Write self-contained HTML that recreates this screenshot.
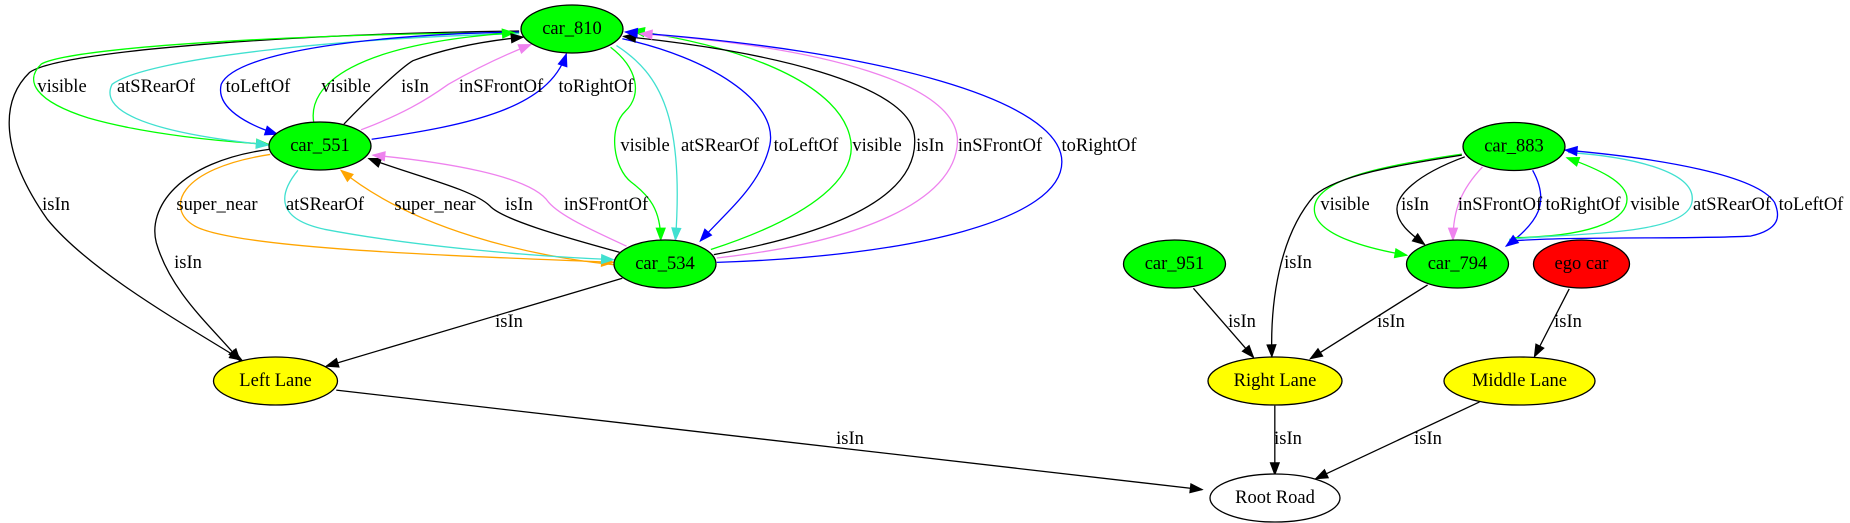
<!DOCTYPE html>
<html><head><meta charset="utf-8"><style>
html,body{margin:0;padding:0;background:#fff;}
svg{display:block;}
text{font-family:"Liberation Serif",serif;font-size:18.5px;fill:#000;}
</style></head><body>
<svg id="g" width="1850" height="523" viewBox="0 0 1850 523" xmlns="http://www.w3.org/2000/svg">
<g id="edges" fill="none" stroke-width="1.3"></g>
<g id="heads"></g>
<g stroke="#000" stroke-width="1.3">
<ellipse cx="572" cy="29" rx="51" ry="24" fill="#00ff00"/>
<ellipse cx="320" cy="146" rx="51" ry="24" fill="#00ff00"/>
<ellipse cx="665" cy="264" rx="51" ry="24" fill="#00ff00"/>
<ellipse cx="275.5" cy="381" rx="62" ry="24" fill="#ffff00"/>
<ellipse cx="1174.5" cy="264" rx="51" ry="24" fill="#00ff00"/>
<ellipse cx="1457.5" cy="264" rx="51" ry="24" fill="#00ff00"/>
<ellipse cx="1581.5" cy="264" rx="48" ry="24" fill="#ff0000"/>
<ellipse cx="1514" cy="146.5" rx="51" ry="24" fill="#00ff00"/>
<ellipse cx="1275" cy="381" rx="67" ry="24" fill="#ffff00"/>
<ellipse cx="1519.5" cy="381" rx="75.5" ry="24" fill="#ffff00"/>
<ellipse cx="1275" cy="498" rx="65" ry="24" fill="#ffffff"/>
</g>
<g text-anchor="middle" dominant-baseline="central">
<text x="572" y="29">car_810</text>
<text x="320" y="146">car_551</text>
<text x="665" y="264">car_534</text>
<text x="275.5" y="381">Left Lane</text>
<text x="1174.5" y="264">car_951</text>
<text x="1457.5" y="264">car_794</text>
<text x="1581.5" y="264">ego car</text>
<text x="1514" y="146.5">car_883</text>
<text x="1275" y="381">Right Lane</text>
<text x="1519.5" y="381">Middle Lane</text>
<text x="1275" y="498">Root Road</text>

<text x="56" y="205">isIn</text>
<text x="62" y="87">visible</text>
<text x="156" y="87">atSRearOf</text>
<text x="258" y="87">toLeftOf</text>
<text x="346" y="87">visible</text>
<text x="415" y="87">isIn</text>
<text x="501" y="87">inSFrontOf</text>
<text x="596" y="87">toRightOf</text>
<text x="645" y="146">visible</text>
<text x="720" y="146">atSRearOf</text>
<text x="806" y="146">toLeftOf</text>
<text x="877" y="146">visible</text>
<text x="930" y="146">isIn</text>
<text x="1000" y="146">inSFrontOf</text>
<text x="1099" y="146">toRightOf</text>
<text x="217" y="205">super_near</text>
<text x="325" y="205">atSRearOf</text>
<text x="435" y="205">super_near</text>
<text x="519" y="205">isIn</text>
<text x="606" y="205">inSFrontOf</text>
<text x="188" y="263">isIn</text>
<text x="509" y="322">isIn</text>
<text x="850" y="439">isIn</text>
<text x="1345" y="205">visible</text>
<text x="1415" y="205">isIn</text>
<text x="1500" y="205">inSFrontOf</text>
<text x="1583" y="205">toRightOf</text>
<text x="1655" y="205">visible</text>
<text x="1732" y="205">atSRearOf</text>
<text x="1811" y="205">toLeftOf</text>
<text x="1298" y="263">isIn</text>
<text x="1242" y="322">isIn</text>
<text x="1391" y="322">isIn</text>
<text x="1568" y="322">isIn</text>
<text x="1288" y="439">isIn</text>
<text x="1428" y="439">isIn</text>
</g>
</svg>
<script>
(function(){
var SX=925/1568, SY=523/1551;
var K='#000000',G='#00ff00',C='#40e0d0',B='#0000ff',V='#ee82ee',O='#ffa500';
var E=[
// [path in zoom coords, color, offset(0/1), arrow]
["M880,92 C500,100 100,150 50,215 C0,300 0,450 80,650 C150,800 300,950 410,1068",K,0,1],
["M880,97 C500,100 120,140 70,190 C40,240 60,300 150,350 C250,400 380,420 455,428",G,0,1],
["M880,100 C600,110 250,170 190,250 C170,320 230,390 455,430",C,0,1],
["M880,95 C650,100 400,150 375,250 C365,320 420,370 470,398",B,0,1],
["M532,365 C520,250 600,130 872,97",G,0,1],
["M583,368 C620,300 680,200 700,180 C760,140 830,120 887,110",K,0,1],
["M612,385 C680,340 720,300 760,250 C810,200 860,160 900,132",V,0,1],
["M630,413 C800,370 930,320 960,160",B,0,1],
["M1035,140 C1080,200 1090,280 1060,330 C1030,380 1040,500 1070,540 C1100,580 1120,620 1120,712",G,0,1],
["M1045,135 C1120,220 1160,350 1145,712",C,0,1],
["M1055,115 C1200,170 1320,300 1305,430 C1290,550 1230,630 1187,715",B,0,1],
["M1205,740 C1380,640 1460,520 1440,400 C1420,270 1300,150 1072,90",G,0,1],
["M1210,755 C1450,680 1560,560 1550,400 C1540,250 1300,150 1057,108",K,0,1],
["M1215,765 C1450,720 1620,600 1623,420 C1625,250 1400,140 1085,100",V,0,1],
["M1215,778 C1550,760 1800,650 1800,480 C1800,300 1500,150 1060,95",B,0,1],
["M1050,748 C950,700 850,650 830,610 C800,560 700,520 625,470",K,0,1],
["M1062,730 C1000,680 950,640 930,600 C900,520 750,480 632,460",V,0,1],
["M1040,785 C900,760 700,680 578,505",O,0,1],
["M458,458 C300,500 280,620 330,670 C400,740 800,760 1040,778",O,0,1],
["M505,505 C470,580 470,650 550,680 C700,730 900,760 1040,770",C,0,1],
["M456,443 C300,480 250,620 265,720 C290,870 360,970 407,1070",K,0,1],
["M1055,825 L553,1086",K,0,1],
["M570,1157 L2038,1452",K,0,1],
// right part (zoom2 coords)
["M910,457 C780,490 660,530 660,620 C660,700 760,740 817,757",G,1,1],
["M910,460 C800,490 700,520 660,580 C600,700 585,900 588,1058",K,1,1],
["M915,465 C830,520 800,580 800,620 C800,660 820,690 847,725",K,1,1],
["M945,495 C910,560 895,620 895,712",V,1,1],
["M1030,505 C1060,600 1040,660 985,730",B,1,1],
["M1000,705 C1150,700 1190,640 1190,590 C1190,540 1140,500 1088,468",G,1,1],
["M990,710 C1100,690 1290,700 1300,600 C1310,510 1200,465 1090,452",C,1,0],
["M990,715 C1100,700 1300,710 1400,700 C1450,680 1450,640 1440,600 C1410,520 1250,470 1085,445",B,1,1],
["M455,855 L557,1060",K,1,1],
["M852,845 L653,1064",K,1,1],
["M1092,857 L1033,1058",K,1,1],
["M593,1203 L593,1408",K,1,1],
["M940,1192 L662,1420",K,1,1]
];
var ns='http://www.w3.org/2000/svg';
var eg=document.getElementById('edges'),hg=document.getElementById('heads');
E.forEach(function(e){
  var off=e[2]?1568:0, pts=[], i=0;
  var d=e[0].replace(/(-?\d+(?:\.\d+)?),(-?\d+(?:\.\d+)?)/g,function(m,a,b){
    var x=((+a)+off)*SX, y=(+b)*SY; pts.push([x,y]); return x.toFixed(2)+','+y.toFixed(2);});
  var p=document.createElementNS(ns,'path');
  p.setAttribute('d',d);p.setAttribute('stroke',e[1]);eg.appendChild(p);
  if(e[3]){
    var P=pts[pts.length-1],Q=pts[pts.length-2];
    var dx=P[0]-Q[0],dy=P[1]-Q[1],L=Math.sqrt(dx*dx+dy*dy)||1;dx/=L;dy/=L;
    var l=12,w=4.5,bx=P[0]-dx*l,by=P[1]-dy*l;
    var pg=document.createElementNS(ns,'polygon');
    pg.setAttribute('points',P[0]+','+P[1]+' '+(bx-dy*w)+','+(by+dx*w)+' '+(bx+dy*w)+','+(by-dx*w));
    pg.setAttribute('fill',e[1]);pg.setAttribute('stroke',e[1]);pg.setAttribute('stroke-width','1');
    hg.appendChild(pg);
  }
});
})();
</script>
</body></html>
